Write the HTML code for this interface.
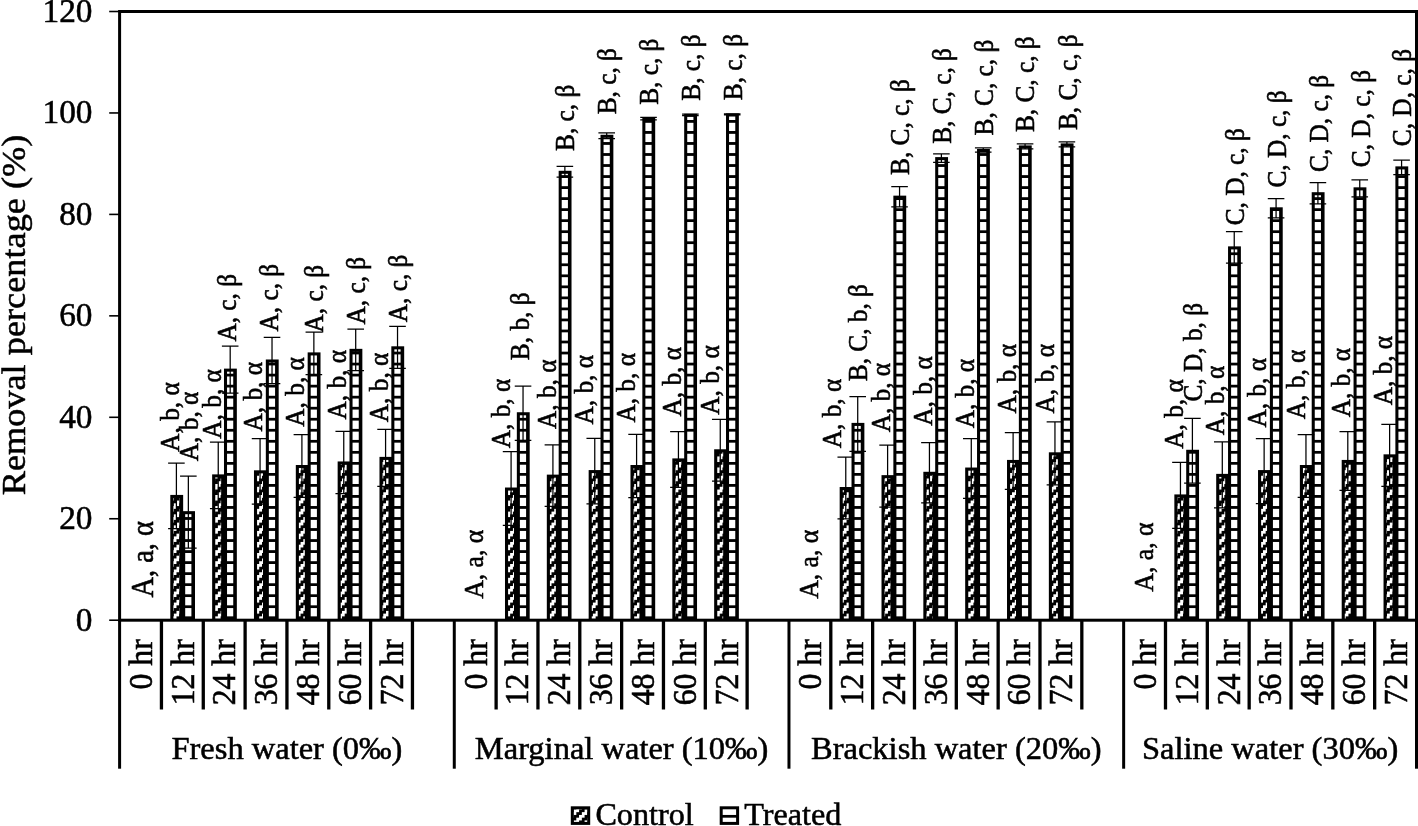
<!DOCTYPE html>
<html lang="en"><head><meta charset="utf-8"><title>Removal percentage chart</title>
<style>html,body{margin:0;padding:0;background:#fff}svg{display:block}text{font-family:"Liberation Serif","Times New Roman",serif;fill:#000;stroke:#000;stroke-width:0.55px}.ax{font-size:32.5px}.dl{font-size:25.3px}</style>
</head><body>
<svg width="1418" height="826" viewBox="0 0 1418 826">
<defs>
<pattern id="ph" patternUnits="userSpaceOnUse" x="0" y="1.45" width="11.03" height="11.03"><rect width="11.03" height="11.03" fill="#fff"/><rect x="0" y="8.27" width="11.03" height="2.76" fill="#000"/></pattern>
<pattern id="pd" patternUnits="userSpaceOnUse" x="0" y="1.45" width="11.03" height="11.03"><rect width="11.03" height="11.03" fill="#000"/><rect x="2.76" y="0" width="2.79" height="2.79" fill="#fff"/><rect x="5.51" y="0" width="2.79" height="2.79" fill="#fff"/><rect x="0" y="2.76" width="2.79" height="2.79" fill="#fff"/><rect x="2.76" y="2.76" width="2.79" height="2.79" fill="#fff"/><rect x="0" y="5.51" width="2.79" height="2.79" fill="#fff"/><rect x="8.27" y="5.51" width="2.79" height="2.79" fill="#fff"/><rect x="5.51" y="8.27" width="2.79" height="2.79" fill="#fff"/><rect x="8.27" y="8.27" width="2.79" height="2.79" fill="#fff"/></pattern>
</defs>
<rect width="1418" height="826" fill="#fff"/>
<g id="bars">
<rect x="170.3" y="494.92" width="12.85" height="125.28" fill="#000"/>
<rect x="173.4" y="497.97" width="5.9" height="120.73" fill="url(#pd)"/>
<rect x="182.15" y="511.16" width="12.85" height="109.04" fill="#000"/>
<rect x="185.2" y="514.21" width="6.2" height="104.49" fill="url(#ph)"/>
<rect x="212.14" y="474.38" width="12.85" height="145.82" fill="#000"/>
<rect x="215.24" y="477.43" width="5.9" height="141.27" fill="url(#pd)"/>
<rect x="223.99" y="368.62" width="12.85" height="251.58" fill="#000"/>
<rect x="227.04" y="371.67" width="6.2" height="247.03" fill="url(#ph)"/>
<rect x="253.97" y="470.32" width="12.85" height="149.88" fill="#000"/>
<rect x="257.07" y="473.37" width="5.9" height="145.33" fill="url(#pd)"/>
<rect x="265.82" y="359.49" width="12.85" height="260.71" fill="#000"/>
<rect x="268.87" y="362.54" width="6.2" height="256.16" fill="url(#ph)"/>
<rect x="295.81" y="465" width="12.85" height="155.2" fill="#000"/>
<rect x="298.91" y="468.05" width="5.9" height="150.65" fill="url(#pd)"/>
<rect x="307.66" y="352.39" width="12.85" height="267.81" fill="#000"/>
<rect x="310.71" y="355.44" width="6.2" height="263.26" fill="url(#ph)"/>
<rect x="337.65" y="461.45" width="12.85" height="158.75" fill="#000"/>
<rect x="340.75" y="464.5" width="5.9" height="154.2" fill="url(#pd)"/>
<rect x="349.5" y="348.84" width="12.85" height="271.36" fill="#000"/>
<rect x="352.55" y="351.89" width="6.2" height="266.81" fill="url(#ph)"/>
<rect x="379.48" y="456.88" width="12.85" height="163.32" fill="#000"/>
<rect x="382.58" y="459.93" width="5.9" height="158.77" fill="url(#pd)"/>
<rect x="391.33" y="346.3" width="12.85" height="273.9" fill="#000"/>
<rect x="394.38" y="349.35" width="6.2" height="269.35" fill="url(#ph)"/>
<rect x="504.99" y="487.52" width="12.85" height="132.68" fill="#000"/>
<rect x="508.09" y="490.57" width="5.9" height="128.13" fill="url(#pd)"/>
<rect x="516.84" y="412.24" width="12.85" height="207.96" fill="#000"/>
<rect x="519.89" y="415.29" width="6.2" height="203.41" fill="url(#ph)"/>
<rect x="546.82" y="474.63" width="12.85" height="145.57" fill="#000"/>
<rect x="549.92" y="477.68" width="5.9" height="141.02" fill="url(#pd)"/>
<rect x="558.67" y="170.79" width="12.85" height="449.41" fill="#000"/>
<rect x="561.72" y="173.84" width="6.2" height="444.86" fill="url(#ph)"/>
<rect x="588.66" y="470.07" width="12.85" height="150.13" fill="#000"/>
<rect x="591.76" y="473.12" width="5.9" height="145.58" fill="url(#pd)"/>
<rect x="600.51" y="134.78" width="12.85" height="485.42" fill="#000"/>
<rect x="603.56" y="137.83" width="6.2" height="480.87" fill="url(#ph)"/>
<rect x="630.49" y="465" width="12.85" height="155.2" fill="#000"/>
<rect x="633.59" y="468.05" width="5.9" height="150.65" fill="url(#pd)"/>
<rect x="642.34" y="117.53" width="12.85" height="502.67" fill="#000"/>
<rect x="645.39" y="120.58" width="6.2" height="498.12" fill="url(#ph)"/>
<rect x="672.33" y="458.4" width="12.85" height="161.8" fill="#000"/>
<rect x="675.43" y="461.45" width="5.9" height="157.25" fill="url(#pd)"/>
<rect x="684.18" y="113.83" width="12.85" height="506.37" fill="#000"/>
<rect x="687.23" y="116.88" width="6.2" height="501.82" fill="url(#ph)"/>
<rect x="714.16" y="449.27" width="12.85" height="170.93" fill="#000"/>
<rect x="717.26" y="452.32" width="5.9" height="166.38" fill="url(#pd)"/>
<rect x="726.01" y="113.47" width="12.85" height="506.73" fill="#000"/>
<rect x="729.06" y="116.52" width="6.2" height="502.18" fill="url(#ph)"/>
<rect x="839.67" y="487.01" width="12.85" height="133.19" fill="#000"/>
<rect x="842.77" y="490.06" width="5.9" height="128.64" fill="url(#pd)"/>
<rect x="851.52" y="422.89" width="12.85" height="197.31" fill="#000"/>
<rect x="854.57" y="425.94" width="6.2" height="192.76" fill="url(#ph)"/>
<rect x="881.51" y="475.14" width="12.85" height="145.06" fill="#000"/>
<rect x="884.61" y="478.19" width="5.9" height="140.51" fill="url(#pd)"/>
<rect x="893.36" y="195.65" width="12.85" height="424.55" fill="#000"/>
<rect x="896.41" y="198.7" width="6.2" height="420" fill="url(#ph)"/>
<rect x="923.34" y="471.79" width="12.85" height="148.41" fill="#000"/>
<rect x="926.44" y="474.84" width="5.9" height="143.86" fill="url(#pd)"/>
<rect x="935.19" y="157.1" width="12.85" height="463.1" fill="#000"/>
<rect x="938.24" y="160.15" width="6.2" height="458.55" fill="url(#ph)"/>
<rect x="965.18" y="467.53" width="12.85" height="152.67" fill="#000"/>
<rect x="968.28" y="470.58" width="5.9" height="148.12" fill="url(#pd)"/>
<rect x="977.03" y="148.98" width="12.85" height="471.22" fill="#000"/>
<rect x="980.08" y="152.03" width="6.2" height="466.67" fill="url(#ph)"/>
<rect x="1007.01" y="459.92" width="12.85" height="160.28" fill="#000"/>
<rect x="1010.11" y="462.97" width="5.9" height="155.73" fill="url(#pd)"/>
<rect x="1018.86" y="145.43" width="12.85" height="474.77" fill="#000"/>
<rect x="1021.91" y="148.48" width="6.2" height="470.22" fill="url(#ph)"/>
<rect x="1048.85" y="452.31" width="12.85" height="167.89" fill="#000"/>
<rect x="1051.95" y="455.36" width="5.9" height="163.34" fill="url(#pd)"/>
<rect x="1060.7" y="143.4" width="12.85" height="476.8" fill="#000"/>
<rect x="1063.75" y="146.45" width="6.2" height="472.25" fill="url(#ph)"/>
<rect x="1174.35" y="494.42" width="12.85" height="125.78" fill="#000"/>
<rect x="1177.45" y="497.47" width="5.9" height="121.23" fill="url(#pd)"/>
<rect x="1186.2" y="449.78" width="12.85" height="170.42" fill="#000"/>
<rect x="1189.25" y="452.83" width="6.2" height="165.87" fill="url(#ph)"/>
<rect x="1216.19" y="473.87" width="12.85" height="146.33" fill="#000"/>
<rect x="1219.29" y="476.92" width="5.9" height="141.78" fill="url(#pd)"/>
<rect x="1228.04" y="246.37" width="12.85" height="373.83" fill="#000"/>
<rect x="1231.09" y="249.42" width="6.2" height="369.28" fill="url(#ph)"/>
<rect x="1258.03" y="470.07" width="12.85" height="150.13" fill="#000"/>
<rect x="1261.13" y="473.12" width="5.9" height="145.58" fill="url(#pd)"/>
<rect x="1269.88" y="207.31" width="12.85" height="412.89" fill="#000"/>
<rect x="1272.93" y="210.36" width="6.2" height="408.34" fill="url(#ph)"/>
<rect x="1299.86" y="465" width="12.85" height="155.2" fill="#000"/>
<rect x="1302.96" y="468.05" width="5.9" height="150.65" fill="url(#pd)"/>
<rect x="1311.71" y="192.2" width="12.85" height="428" fill="#000"/>
<rect x="1314.76" y="195.25" width="6.2" height="423.45" fill="url(#ph)"/>
<rect x="1341.7" y="459.92" width="12.85" height="160.28" fill="#000"/>
<rect x="1344.8" y="462.97" width="5.9" height="155.73" fill="url(#pd)"/>
<rect x="1353.55" y="187.33" width="12.85" height="432.87" fill="#000"/>
<rect x="1356.6" y="190.38" width="6.2" height="428.32" fill="url(#ph)"/>
<rect x="1383.53" y="454.34" width="12.85" height="165.86" fill="#000"/>
<rect x="1386.63" y="457.39" width="5.9" height="161.31" fill="url(#pd)"/>
<rect x="1395.38" y="166.38" width="12.85" height="453.82" fill="#000"/>
<rect x="1398.43" y="169.43" width="6.2" height="449.27" fill="url(#ph)"/>
</g>
<g id="err" stroke="#000" stroke-width="1.25" fill="none">
<path d="M176.4 463.21V528.64M168.1 463.21H184.7M168.1 528.64H184.7"/>
<path d="M188.35 476.14V548.17M180.05 476.14H196.65M180.05 548.17H196.65"/>
<path d="M218.24 442.1V508.66M209.94 442.1H226.54M209.94 508.66H226.54"/>
<path d="M230.19 346.03V393.21M221.89 346.03H238.49M221.89 393.21H238.49"/>
<path d="M260.07 438.6V504.04M251.77 438.6H268.37M251.77 504.04H268.37"/>
<path d="M272.02 337.41V383.57M263.72 337.41H280.32M263.72 383.57H280.32"/>
<path d="M301.91 434.55V497.45M293.61 434.55H310.21M293.61 497.45H310.21"/>
<path d="M313.86 332.08V374.69M305.56 332.08H322.16M305.56 374.69H322.16"/>
<path d="M343.75 431.3V493.59M335.45 431.3H352.05M335.45 493.59H352.05"/>
<path d="M355.7 329.04V370.63M347.4 329.04H364M347.4 370.63H364"/>
<path d="M385.58 429.47V486.29M377.28 429.47H393.88M377.28 486.29H393.88"/>
<path d="M397.53 326.35V368.25M389.23 326.35H405.83M389.23 368.25H405.83"/>
<path d="M511.09 451.74V525.29M502.79 451.74H519.39M502.79 525.29H519.39"/>
<path d="M523.04 386.05V440.43M514.74 386.05H531.34M514.74 440.43H531.34"/>
<path d="M552.92 444.95V506.32M544.62 444.95H561.22M544.62 506.32H561.22"/>
<path d="M564.87 166.36V177.22M556.57 166.36H573.17M556.57 177.22H573.17"/>
<path d="M594.76 438.35V503.79M586.46 438.35H603.06M586.46 503.79H603.06"/>
<path d="M606.71 132.83V138.72M598.41 132.83H615.01M598.41 138.72H615.01"/>
<path d="M636.59 434.29V497.7M628.29 434.29H644.89M628.29 497.7H644.89"/>
<path d="M648.54 117.26V119.8M640.24 117.26H656.84M640.24 119.8H656.84"/>
<path d="M678.43 431.5V487.3M670.13 431.5H686.73M670.13 487.3H686.73"/>
<path d="M690.38 114.07V115.59M682.08 114.07H698.68M682.08 115.59H698.68"/>
<path d="M720.26 419.33V481.21M711.96 419.33H728.56M711.96 481.21H728.56"/>
<path d="M732.21 113.96V114.98M723.91 113.96H740.51M723.91 114.98H740.51"/>
<path d="M845.77 457.07V518.95M837.47 457.07H854.07M837.47 518.95H854.07"/>
<path d="M857.72 396.5V451.29M849.42 396.5H866.02M849.42 451.29H866.02"/>
<path d="M887.61 445.2V507.08M879.31 445.2H895.91M879.31 507.08H895.91"/>
<path d="M899.56 186.5V206.79M891.26 186.5H907.86M891.26 206.79H907.86"/>
<path d="M929.44 442.61V502.97M921.14 442.61H937.74M921.14 502.97H937.74"/>
<path d="M941.39 153.89V162.31M933.09 153.89H949.69M933.09 162.31H949.69"/>
<path d="M971.28 438.6V498.46M962.98 438.6H979.58M962.98 498.46H979.58"/>
<path d="M983.23 147.95V152.01M974.93 147.95H991.53M974.93 152.01H991.53"/>
<path d="M1013.11 432.52V489.33M1004.81 432.52H1021.41M1004.81 489.33H1021.41"/>
<path d="M1025.06 143.89V148.96M1016.76 143.89H1033.36M1016.76 148.96H1033.36"/>
<path d="M1054.95 421.87V484.76M1046.65 421.87H1063.25M1046.65 484.76H1063.25"/>
<path d="M1066.9 141.86V146.94M1058.6 141.86H1075.2M1058.6 146.94H1075.2"/>
<path d="M1180.45 462.45V528.39M1172.15 462.45H1188.75M1172.15 528.39H1188.75"/>
<path d="M1192.4 418.31V483.24M1184.1 418.31H1200.7M1184.1 483.24H1200.7"/>
<path d="M1222.29 441.9V507.84M1213.99 441.9H1230.59M1213.99 507.84H1230.59"/>
<path d="M1234.24 231.65V263.1M1225.94 231.65H1242.54M1225.94 263.1H1242.54"/>
<path d="M1264.13 438.6V503.53M1255.83 438.6H1272.43M1255.83 503.53H1272.43"/>
<path d="M1276.08 198.73V217.9M1267.78 198.73H1284.38M1267.78 217.9H1284.38"/>
<path d="M1305.96 434.55V497.45M1297.66 434.55H1314.26M1297.66 497.45H1314.26"/>
<path d="M1317.91 182.6V203.8M1309.61 182.6H1326.21M1309.61 203.8H1326.21"/>
<path d="M1347.8 431.5V490.34M1339.5 431.5H1356.1M1339.5 490.34H1356.1"/>
<path d="M1359.75 179.75V196.9M1351.45 179.75H1368.05M1351.45 196.9H1368.05"/>
<path d="M1389.63 424.4V486.29M1381.33 424.4H1397.93M1381.33 486.29H1397.93"/>
<path d="M1401.58 160.12V174.63M1393.28 160.12H1409.88M1393.28 174.63H1409.88"/>
</g>
<g id="axes" stroke="#000" fill="none">
<rect x="119.6" y="11.5" width="1296.9" height="608.7" stroke-width="3"/>
<line x1="109.2" y1="620.2" x2="119.6" y2="620.2" stroke-width="1.6"/>
<line x1="109.2" y1="518.75" x2="119.6" y2="518.75" stroke-width="1.6"/>
<line x1="109.2" y1="417.3" x2="119.6" y2="417.3" stroke-width="1.6"/>
<line x1="109.2" y1="315.85" x2="119.6" y2="315.85" stroke-width="1.6"/>
<line x1="109.2" y1="214.4" x2="119.6" y2="214.4" stroke-width="1.6"/>
<line x1="109.2" y1="112.95" x2="119.6" y2="112.95" stroke-width="1.6"/>
<line x1="109.2" y1="11.5" x2="119.6" y2="11.5" stroke-width="1.6"/>
<line x1="119.6" y1="620.2" x2="119.6" y2="768.7" stroke-width="3"/>
<line x1="161.44" y1="620.2" x2="161.44" y2="709.5" stroke-width="3.3"/>
<line x1="203.27" y1="620.2" x2="203.27" y2="709.5" stroke-width="3.3"/>
<line x1="245.11" y1="620.2" x2="245.11" y2="709.5" stroke-width="3.3"/>
<line x1="286.94" y1="620.2" x2="286.94" y2="709.5" stroke-width="3.3"/>
<line x1="328.78" y1="620.2" x2="328.78" y2="709.5" stroke-width="3.3"/>
<line x1="370.61" y1="620.2" x2="370.61" y2="709.5" stroke-width="3.3"/>
<line x1="412.45" y1="620.2" x2="412.45" y2="709.5" stroke-width="3.3"/>
<line x1="454.28" y1="620.2" x2="454.28" y2="768.7" stroke-width="3"/>
<line x1="496.12" y1="620.2" x2="496.12" y2="709.5" stroke-width="3.3"/>
<line x1="537.95" y1="620.2" x2="537.95" y2="709.5" stroke-width="3.3"/>
<line x1="579.79" y1="620.2" x2="579.79" y2="709.5" stroke-width="3.3"/>
<line x1="621.63" y1="620.2" x2="621.63" y2="709.5" stroke-width="3.3"/>
<line x1="663.46" y1="620.2" x2="663.46" y2="709.5" stroke-width="3.3"/>
<line x1="705.3" y1="620.2" x2="705.3" y2="709.5" stroke-width="3.3"/>
<line x1="747.13" y1="620.2" x2="747.13" y2="709.5" stroke-width="3.3"/>
<line x1="788.97" y1="620.2" x2="788.97" y2="768.7" stroke-width="3"/>
<line x1="830.8" y1="620.2" x2="830.8" y2="709.5" stroke-width="3.3"/>
<line x1="872.64" y1="620.2" x2="872.64" y2="709.5" stroke-width="3.3"/>
<line x1="914.47" y1="620.2" x2="914.47" y2="709.5" stroke-width="3.3"/>
<line x1="956.31" y1="620.2" x2="956.31" y2="709.5" stroke-width="3.3"/>
<line x1="998.15" y1="620.2" x2="998.15" y2="709.5" stroke-width="3.3"/>
<line x1="1039.98" y1="620.2" x2="1039.98" y2="709.5" stroke-width="3.3"/>
<line x1="1081.82" y1="620.2" x2="1081.82" y2="709.5" stroke-width="3.3"/>
<line x1="1123.65" y1="620.2" x2="1123.65" y2="768.7" stroke-width="3"/>
<line x1="1165.49" y1="620.2" x2="1165.49" y2="709.5" stroke-width="3.3"/>
<line x1="1207.32" y1="620.2" x2="1207.32" y2="709.5" stroke-width="3.3"/>
<line x1="1249.16" y1="620.2" x2="1249.16" y2="709.5" stroke-width="3.3"/>
<line x1="1290.99" y1="620.2" x2="1290.99" y2="709.5" stroke-width="3.3"/>
<line x1="1332.83" y1="620.2" x2="1332.83" y2="709.5" stroke-width="3.3"/>
<line x1="1374.66" y1="620.2" x2="1374.66" y2="709.5" stroke-width="3.3"/>
<line x1="1416.5" y1="620.2" x2="1416.5" y2="768.7" stroke-width="3"/>
</g>
<g class="ax" text-anchor="end">
<text font-size="33.3" x="92.5" y="630.7">0</text>
<text font-size="33.3" x="92.5" y="529.25">20</text>
<text font-size="33.3" x="92.5" y="427.8">40</text>
<text font-size="33.3" x="92.5" y="326.35">60</text>
<text font-size="33.3" x="92.5" y="224.9">80</text>
<text font-size="33.3" x="92.5" y="123.45">100</text>
<text font-size="33.3" x="92.5" y="22">120</text>
</g>
<text class="yt" font-size="36.3" text-anchor="middle" transform="translate(24.6 315) rotate(-90) scale(1 0.95)">Removal percentage (%)</text>
<g class="ax" text-anchor="end">
<text transform="translate(151.82 639.2) rotate(-90) scale(0.977 1.02)">0 hr</text>
<text transform="translate(193.65 639.2) rotate(-90) scale(0.977 1.02)">12 hr</text>
<text transform="translate(235.49 639.2) rotate(-90) scale(0.977 1.02)">24 hr</text>
<text transform="translate(277.32 639.2) rotate(-90) scale(0.977 1.02)">36 hr</text>
<text transform="translate(319.16 639.2) rotate(-90) scale(0.977 1.02)">48 hr</text>
<text transform="translate(361 639.2) rotate(-90) scale(0.977 1.02)">60 hr</text>
<text transform="translate(402.83 639.2) rotate(-90) scale(0.977 1.02)">72 hr</text>
<text transform="translate(486.5 639.2) rotate(-90) scale(0.977 1.02)">0 hr</text>
<text transform="translate(528.34 639.2) rotate(-90) scale(0.977 1.02)">12 hr</text>
<text transform="translate(570.17 639.2) rotate(-90) scale(0.977 1.02)">24 hr</text>
<text transform="translate(612.01 639.2) rotate(-90) scale(0.977 1.02)">36 hr</text>
<text transform="translate(653.84 639.2) rotate(-90) scale(0.977 1.02)">48 hr</text>
<text transform="translate(695.68 639.2) rotate(-90) scale(0.977 1.02)">60 hr</text>
<text transform="translate(737.51 639.2) rotate(-90) scale(0.977 1.02)">72 hr</text>
<text transform="translate(821.19 639.2) rotate(-90) scale(0.977 1.02)">0 hr</text>
<text transform="translate(863.02 639.2) rotate(-90) scale(0.977 1.02)">12 hr</text>
<text transform="translate(904.86 639.2) rotate(-90) scale(0.977 1.02)">24 hr</text>
<text transform="translate(946.69 639.2) rotate(-90) scale(0.977 1.02)">36 hr</text>
<text transform="translate(988.53 639.2) rotate(-90) scale(0.977 1.02)">48 hr</text>
<text transform="translate(1030.36 639.2) rotate(-90) scale(0.977 1.02)">60 hr</text>
<text transform="translate(1072.2 639.2) rotate(-90) scale(0.977 1.02)">72 hr</text>
<text transform="translate(1155.87 639.2) rotate(-90) scale(0.977 1.02)">0 hr</text>
<text transform="translate(1197.7 639.2) rotate(-90) scale(0.977 1.02)">12 hr</text>
<text transform="translate(1239.54 639.2) rotate(-90) scale(0.977 1.02)">24 hr</text>
<text transform="translate(1281.38 639.2) rotate(-90) scale(0.977 1.02)">36 hr</text>
<text transform="translate(1323.21 639.2) rotate(-90) scale(0.977 1.02)">48 hr</text>
<text transform="translate(1365.05 639.2) rotate(-90) scale(0.977 1.02)">60 hr</text>
<text transform="translate(1406.88 639.2) rotate(-90) scale(0.977 1.02)">72 hr</text>
</g>
<g class="ax" text-anchor="middle">
<text x="286.94" y="759.3">Fresh water (0‰)</text>
<text x="621.63" y="759.3">Marginal water (10‰)</text>
<text x="956.31" y="759.3">Brackish water (20‰)</text>
<text x="1270.08" y="759.3">Saline water (30‰)</text>
</g>
<g class="dl">
<text font-size="28.45" transform="translate(152.65 597.58) rotate(-90) scale(1 1.09)">A, a, α</text>
<text transform="translate(178.75 451.75) rotate(-90) scale(1 1.07)">A, b, α</text>
<text transform="translate(197.95 461.15) rotate(-90) scale(1 1.07)">A, b, α</text>
<text transform="translate(220.85 438.65) rotate(-90) scale(1 1.07)">A, b, α</text>
<text transform="translate(262.25 431.45) rotate(-90) scale(1 1.07)">A, b, α</text>
<text transform="translate(304.35 426.65) rotate(-90) scale(1 1.07)">A, b, α</text>
<text transform="translate(346.25 419.45) rotate(-90) scale(1 1.07)">A, b, α</text>
<text transform="translate(387.75 422.15) rotate(-90) scale(1 1.07)">A, b, α</text>
<text transform="translate(236.35 341.55) rotate(-90) scale(1 1.07)">A, c, β</text>
<text transform="translate(277.75 331.45) rotate(-90) scale(1 1.07)">A, c, β</text>
<text transform="translate(322.75 332.45) rotate(-90) scale(1 1.07)">A, c, β</text>
<text transform="translate(364.95 324.45) rotate(-90) scale(1 1.07)">A, c, β</text>
<text transform="translate(406.95 322.25) rotate(-90) scale(1 1.07)">A, c, β</text>
<text font-size="25.7" transform="translate(483.45 598.86) rotate(-90) scale(1 1.07)">A, a, α</text>
<text transform="translate(509.85 448.25) rotate(-90) scale(1 1.07)">A, b, α</text>
<text transform="translate(529.05 360.13) rotate(-90) scale(1 1.07)">B, b, β</text>
<text transform="translate(555.55 428.95) rotate(-90) scale(1 1.07)">A, b, α</text>
<text transform="translate(593.15 424.45) rotate(-90) scale(1 1.07)">A, b, α</text>
<text transform="translate(635.25 422.55) rotate(-90) scale(1 1.07)">A, b, α</text>
<text transform="translate(680.65 416.45) rotate(-90) scale(1 1.07)">A, b, α</text>
<text transform="translate(718.85 414.75) rotate(-90) scale(1 1.07)">A, b, α</text>
<text transform="translate(574.25 150.93) rotate(-90) scale(1 1.07)">B, c, β</text>
<text transform="translate(616.35 114.33) rotate(-90) scale(1 1.07)">B, c, β</text>
<text transform="translate(658.05 104.83) rotate(-90) scale(1 1.07)">B, c, β</text>
<text transform="translate(699.95 100.73) rotate(-90) scale(1 1.07)">B, c, β</text>
<text transform="translate(741.95 100.23) rotate(-90) scale(1 1.07)">B, c, β</text>
<text font-size="25.7" transform="translate(818.25 598.86) rotate(-90) scale(1 1.07)">A, a, α</text>
<text transform="translate(840.95 448.25) rotate(-90) scale(1 1.07)">A, b, α</text>
<text transform="translate(867.05 381.23) rotate(-90) scale(1 1.07)">B, C, b, β</text>
<text transform="translate(890.05 432.35) rotate(-90) scale(1 1.07)">A, b, α</text>
<text transform="translate(932.15 425.75) rotate(-90) scale(1 1.07)">A, b, α</text>
<text transform="translate(973.55 428.35) rotate(-90) scale(1 1.07)">A, b, α</text>
<text transform="translate(1015.95 413.45) rotate(-90) scale(1 1.07)">A, b, α</text>
<text transform="translate(1053.75 413.45) rotate(-90) scale(1 1.07)">A, b, α</text>
<text transform="translate(909.25 174.93) rotate(-90) scale(1 1.07)">B, C, c, β</text>
<text transform="translate(950.95 143.83) rotate(-90) scale(1 1.07)">B, C, c, β</text>
<text transform="translate(992.65 135.43) rotate(-90) scale(1 1.07)">B, C, c, β</text>
<text transform="translate(1034.45 132.03) rotate(-90) scale(1 1.07)">B, C, c, β</text>
<text transform="translate(1076.65 130.03) rotate(-90) scale(1 1.07)">B, C, c, β</text>
<text font-size="25.7" transform="translate(1152.95 591.66) rotate(-90) scale(1 1.07)">A, a, α</text>
<text transform="translate(1182.75 448.75) rotate(-90) scale(1 1.07)">A, b, α</text>
<text transform="translate(1202.25 401.54) rotate(-90) scale(1 1.07)">C, D, b, β</text>
<text transform="translate(1224.45 435.25) rotate(-90) scale(1 1.07)">A, b, α</text>
<text transform="translate(1266.45 427.55) rotate(-90) scale(1 1.07)">A, b, α</text>
<text transform="translate(1304.95 419.15) rotate(-90) scale(1 1.07)">A, b, α</text>
<text transform="translate(1349.95 417.35) rotate(-90) scale(1 1.07)">A, b, α</text>
<text transform="translate(1392.05 405.35) rotate(-90) scale(1 1.07)">A, b, α</text>
<text transform="translate(1244.35 225.34) rotate(-90) scale(1 1.07)">C, D, c, β</text>
<text transform="translate(1285.75 187.54) rotate(-90) scale(1 1.07)">C, D, c, β</text>
<text transform="translate(1327.95 171.94) rotate(-90) scale(1 1.07)">C, D, c, β</text>
<text transform="translate(1370.05 167.14) rotate(-90) scale(1 1.07)">C, D, c, β</text>
<text transform="translate(1411.45 146.14) rotate(-90) scale(1 1.07)">C, D, c, β</text>
</g>
<g id="legend">
<rect x="570.8" y="806.3" width="19.4" height="18.6" fill="#000"/>
<rect x="573.8" y="809.3" width="13.4" height="12.6" fill="url(#pd)"/>
<text font-size="31.8" transform="translate(595.4 825.2) scale(1.012 1)">Control</text>
<rect x="719.7" y="806.3" width="19.4" height="18.6" fill="#000"/>
<rect x="722.7" y="809.3" width="13.4" height="12.6" fill="url(#ph)"/>
<text font-size="31.8" transform="translate(744.2 825.2) scale(1.012 1)">Treated</text>
</g>
</svg>
</body></html>
